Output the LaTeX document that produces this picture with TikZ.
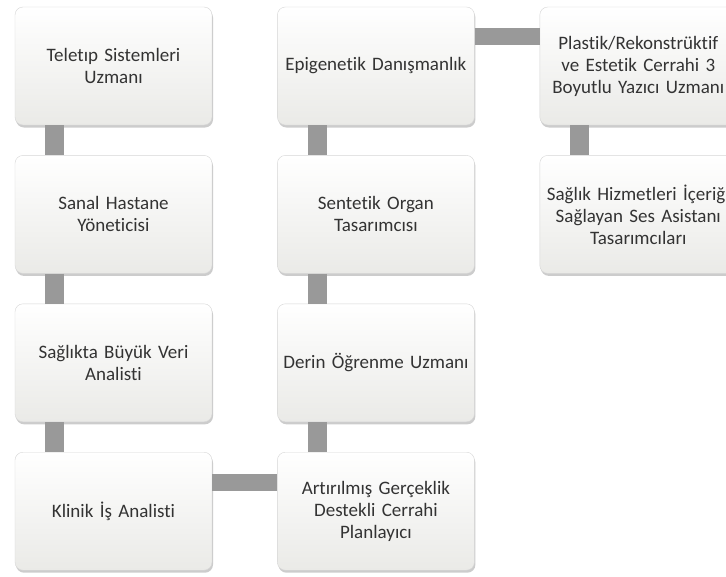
\documentclass[tikz,border=0pt]{standalone}
\usepackage{fontspec}
\setmainfont{Carlito}[Ligatures=NoCommon]
\usetikzlibrary{positioning,shadows}
\definecolor{ink}{HTML}{333333}
\definecolor{bar}{HTML}{999999}
\definecolor{boxlite}{HTML}{EAEAE7}
\definecolor{edge}{HTML}{D6D6D6}
\newcommand\jobfont{\fontsize{19}{22}\selectfont}

\begin{document}
\begin{tikzpicture}[x=1pt,y=-1pt,node distance=30pt and 65pt,
    job/.style={rounded corners=8pt,top color=white,bottom color=boxlite,draw=edge,
      drop shadow={shadow xshift=1pt,shadow yshift=-2.5pt,opacity=0.4},
      minimum width=197pt,minimum height=118pt,text width=191pt,inner xsep=3pt,
      align=center,text=ink,font=\jobfont},
    vbar/.style={draw=bar,line width=19pt},
    hbar/.style={draw=bar,line width=17pt}]
  \useasboundingbox (0,0) rectangle (726,576);
  \clip (0,0) rectangle (726,576);
  \fill[white] (0,0) rectangle (726,576);
  % first column, top to bottom
  \node[job] (a) at (113.5,66) {Teletıp Sistemleri\\Uzmanı};
  \node[job,below=of a] (b) {Sanal Hastane\\Yöneticisi};
  \node[job,below=of b] (c) {Sağlıkta Büyük Veri\\Analisti};
  \node[job,below=of c] (d) {Klinik İş Analisti};
  % second column, bottom to top
  \node[job,right=of d] (e) {Artırılmış Gerçeklik\\Destekli Cerrahi\\Planlayıcı};
  \node[job,above=of e] (f) {Derin Öğrenme Uzmanı};
  \node[job,above=of f] (g) {Sentetik Organ\\Tasarımcısı};
  \node[job,above=of g] (h) {Epigenetik Danışmanlık};
  % third column
  \node[job,right=of h] (i) {Plastik/Rekonstrüktif\\ve Estetik Cerrahi 3\\Boyutlu Yazıcı Uzmanı};
  \node[job,below=of i] (j) {\makebox[\linewidth]{Sağlık Hizmetleri İçeriği}\\Sağlayan Ses Asistanı\\Tasarımcıları};
  % connectors
  \foreach \u/\v in {a/b,b/c,c/d,h/g,g/f,f/e,i/j}{\draw[vbar] ([xshift=40pt]\u.south west) -- ([xshift=40pt]\v.north west);}
  \draw[hbar] ([yshift=-30pt]d.north east) -- ([yshift=-30pt]e.north west);
  \draw[hbar] ([yshift=-30pt]h.north east) -- ([yshift=-30pt]i.north west);
\end{tikzpicture}
\end{document}
